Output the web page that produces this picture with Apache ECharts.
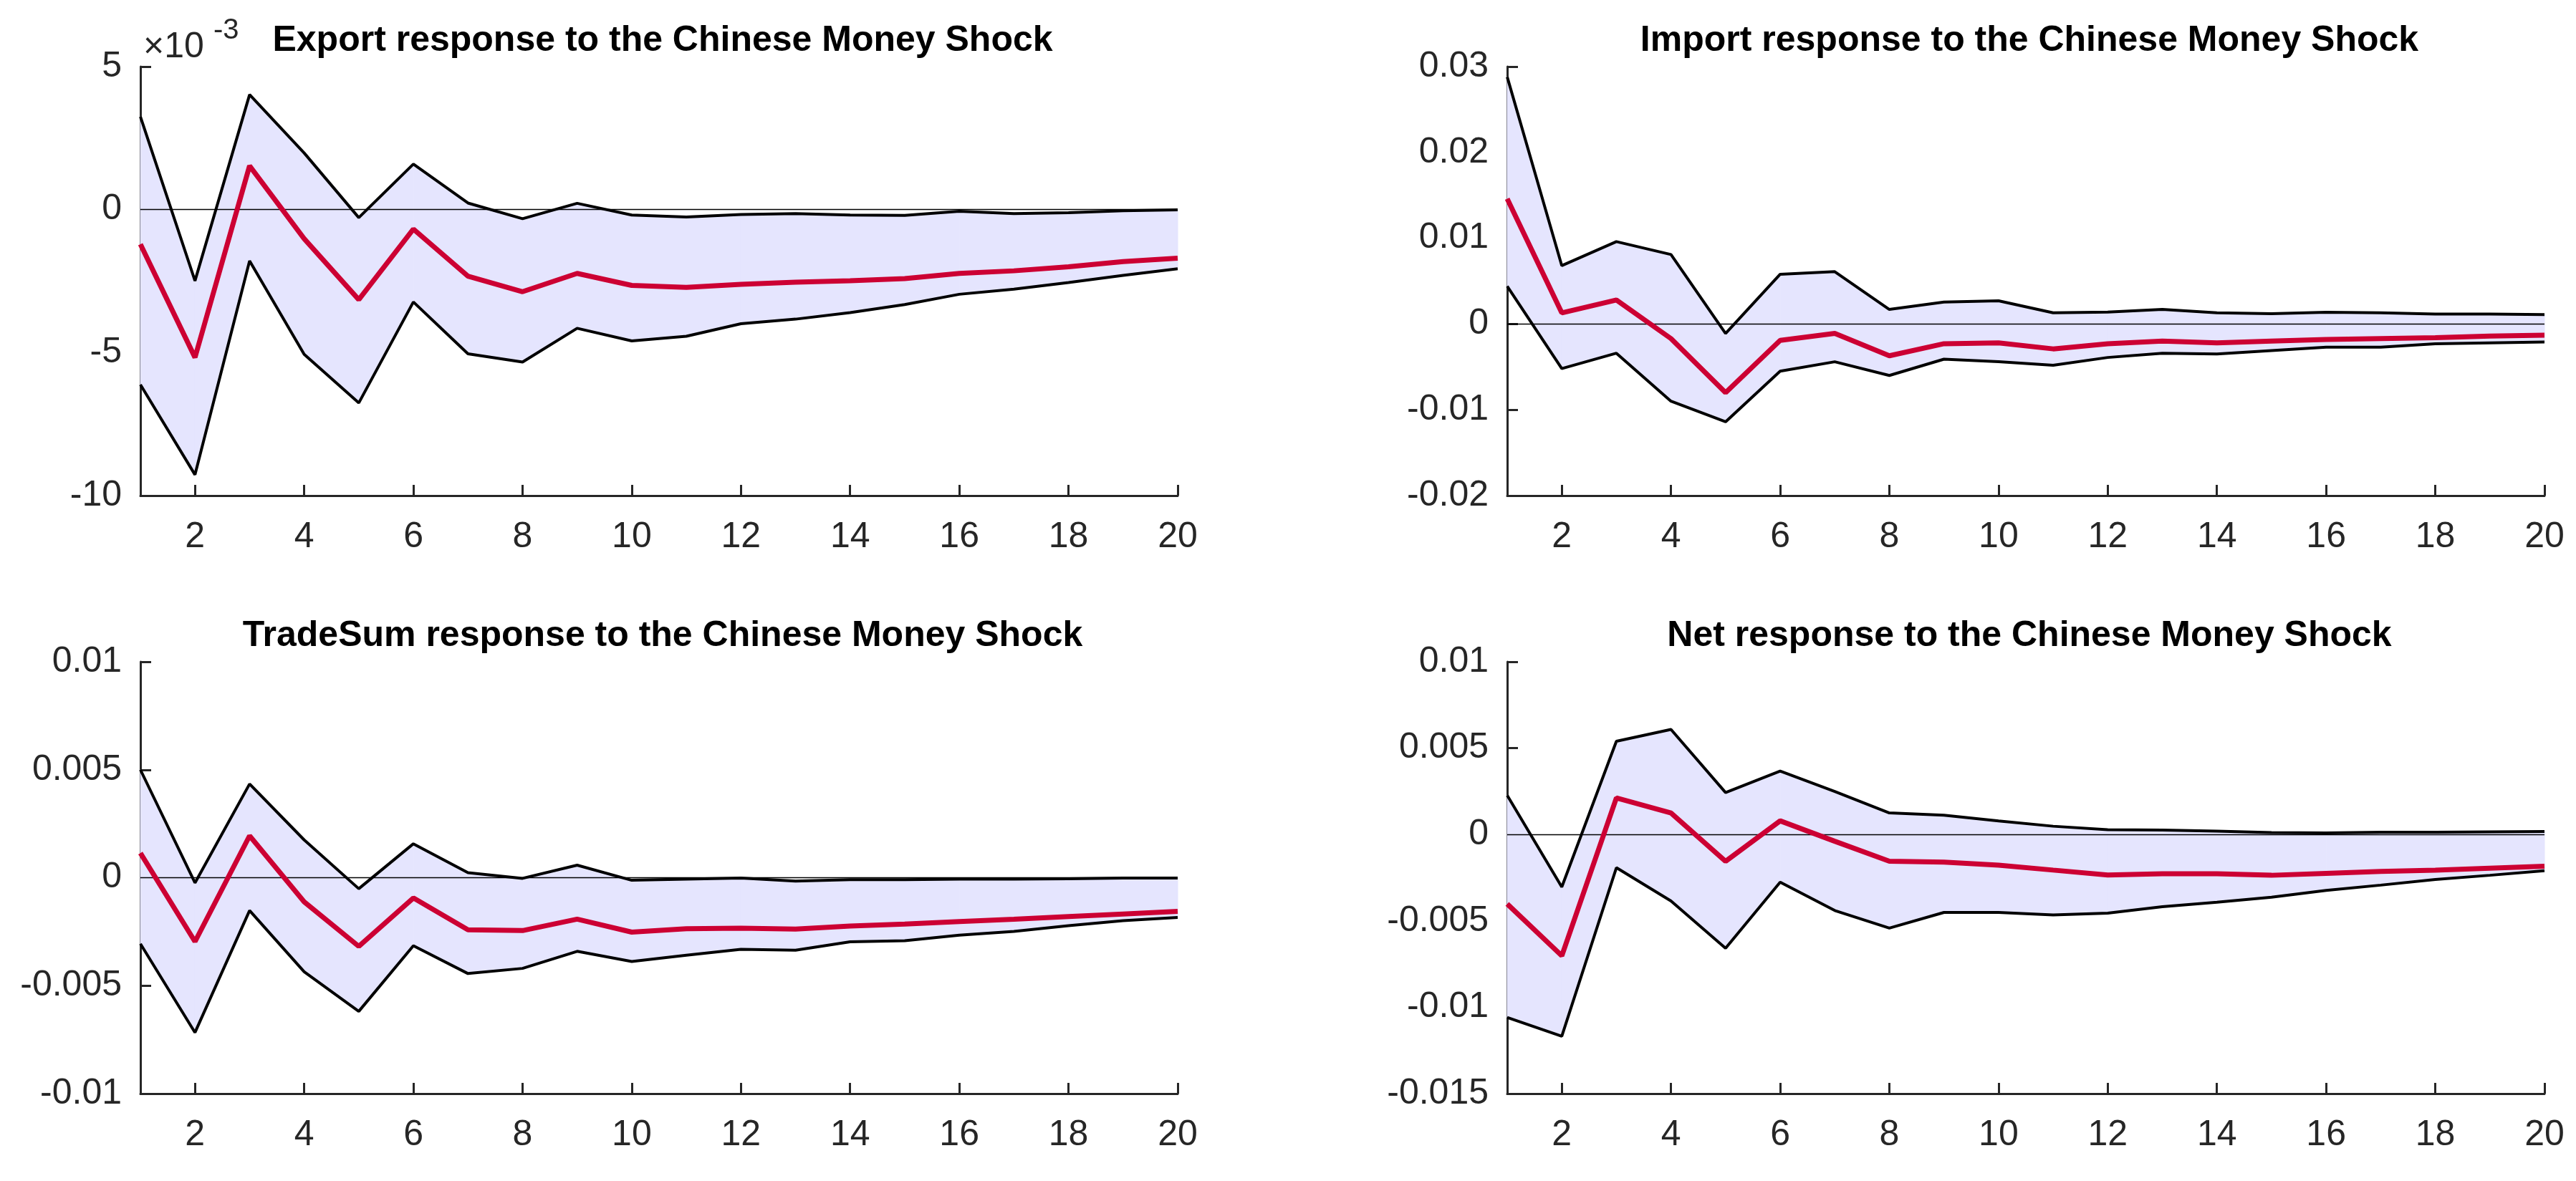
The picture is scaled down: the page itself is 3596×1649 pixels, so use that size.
<!DOCTYPE html>
<html>
<head>
<meta charset="utf-8">
<script src="https://cdn.jsdelivr.net/npm/echarts@6/dist/echarts.min.js"></script>
<style>
html,body{margin:0;padding:0;background:#fff;}
#c{width:3596px;height:1649px;}
</style>
</head>
<body>
<div id="c"></div>
<script>
// Horizon steps
const steps = [1,2,3,4,5,6,7,8,9,10,11,12,13,14,15,16,17,18,19,20];
const xTicks = [2,4,6,8,10,12,14,16,18,20];

// Export response (units of 1e-3)
const exportUpper = [3.25,-2.49,4.02,1.98,-0.28,1.59,0.23,-0.32,0.22,-0.19,-0.26,-0.17,-0.14,-0.19,-0.20,-0.06,-0.14,-0.11,-0.04,-0.01];
const exportMean  = [-1.21,-5.17,1.53,-1.02,-3.15,-0.68,-2.33,-2.87,-2.23,-2.65,-2.72,-2.61,-2.54,-2.49,-2.41,-2.23,-2.14,-2.00,-1.82,-1.70];
const exportLower = [-6.12,-9.27,-1.79,-5.06,-6.76,-3.23,-5.04,-5.33,-4.15,-4.59,-4.43,-3.99,-3.83,-3.60,-3.32,-2.96,-2.78,-2.55,-2.30,-2.07];

// Import response
const importUpper = [0.0288,0.0068,0.0096,0.0081,-0.0011,0.0058,0.0061,0.0017,0.00255,0.0027,0.0013,0.0014,0.0017,0.0013,0.0012,0.00136,0.0013,0.00115,0.00115,0.0011];
const importMean  = [0.0146,0.0013,0.0028,-0.0017,-0.0080,-0.0019,-0.0011,-0.0037,-0.0023,-0.0022,-0.0029,-0.0023,-0.0020,-0.0022,-0.0020,-0.0018,-0.0017,-0.0016,-0.0014,-0.0013];
const importLower = [0.0044,-0.0052,-0.0034,-0.0090,-0.0114,-0.0055,-0.0044,-0.0060,-0.0041,-0.0044,-0.0048,-0.0039,-0.0034,-0.0035,-0.0031,-0.0027,-0.0027,-0.0023,-0.0022,-0.0021];

// TradeSum response
const tradeUpper = [0.0050,-0.00024,0.00434,0.00175,-0.00051,0.00157,0.00023,-0.00003,0.00058,-0.00012,-0.00007,-0.00002,-0.00016,-0.00009,-0.00009,-0.00007,-0.00007,-0.00005,-0.00002,-0.00002];
const tradeMean  = [0.00114,-0.00296,0.00194,-0.00112,-0.00318,-0.00094,-0.00241,-0.00245,-0.00192,-0.00252,-0.00236,-0.00234,-0.00238,-0.00224,-0.00215,-0.00203,-0.00192,-0.00180,-0.00168,-0.00156];
const tradeLower = [-0.00306,-0.00717,-0.00152,-0.00436,-0.00619,-0.00315,-0.00444,-0.00420,-0.00341,-0.00388,-0.00359,-0.00332,-0.00336,-0.00297,-0.00292,-0.00266,-0.00249,-0.00222,-0.00199,-0.00184];

// Net response
const netUpper = [0.00227,-0.00304,0.00540,0.00608,0.00243,0.00367,0.00249,0.00125,0.00112,0.00079,0.00048,0.00028,0.00026,0.00020,0.00011,0.00009,0.00013,0.00013,0.00015,0.00017];
const netMean  = [-0.00402,-0.00702,0.00212,0.00125,-0.00155,0.00079,-0.00039,-0.00155,-0.00160,-0.00177,-0.00206,-0.00234,-0.00227,-0.00227,-0.00236,-0.00225,-0.00214,-0.00206,-0.00195,-0.00184];
const netLower = [-0.01059,-0.01168,-0.00192,-0.00385,-0.00658,-0.00276,-0.00440,-0.00542,-0.00451,-0.00451,-0.00466,-0.00455,-0.00418,-0.00392,-0.00363,-0.00324,-0.00293,-0.00260,-0.00236,-0.00210];

const titles = [
  'Export response to the Chinese Money Shock',
  'Import response to the Chinese Money Shock',
  'TradeSum response to the Chinese Money Shock',
  'Net response to the Chinese Money Shock'
];
const yMin = [-10, -0.02, -0.01, -0.015];
const yMax = [5, 0.03, 0.01, 0.01];
const yStep = [5, 0.01, 0.005, 0.005];

const panels = [
  {lo: exportLower, mid: exportMean, hi: exportUpper},
  {lo: importLower, mid: importMean, hi: importUpper},
  {lo: tradeLower, mid: tradeMean, hi: tradeUpper},
  {lo: netLower, mid: netMean, hi: netUpper}
];

const layout = [
  {left: 196, top: 93, width: 1448, height: 599},
  {left: 2104, top: 93, width: 1448, height: 599},
  {left: 196, top: 924, width: 1448, height: 603},
  {left: 2104, top: 924, width: 1448, height: 603}
];

const FONT = '"Liberation Sans", Arial, Helvetica, sans-serif';
const AX = '#262626';
const FILL = '#e5e5fe';
const RED = '#cc0033';

const pairs = arr => arr.map((v, i) => [steps[i], v]);

const grid = [], xAxis = [], yAxis = [], series = [], title = [];
panels.forEach((p, i) => {
  const L = layout[i];
  grid.push({left: L.left, top: L.top, width: L.width, height: L.height, containLabel: false});
  xAxis.push({
    type: 'value', gridIndex: i, min: 1, max: 20,
    splitLine: {show: false},
    axisLine: {show: true, onZero: false, lineStyle: {color: AX, width: 3}},
    axisTick: {show: true, inside: true, length: 15, lineStyle: {color: AX, width: 3}, customValues: xTicks},
    axisLabel: {show: true, margin: 33, fontSize: 50, fontFamily: FONT, color: AX, customValues: xTicks}
  });
  yAxis.push({
    type: 'value', gridIndex: i, min: yMin[i], max: yMax[i], interval: yStep[i],
    splitLine: {show: false},
    axisLine: {show: true, onZero: false, lineStyle: {color: AX, width: 3}},
    axisTick: {show: true, inside: true, length: 15, lineStyle: {color: AX, width: 3}},
    axisLabel: {show: true, margin: 26, fontSize: 50, fontFamily: FONT, color: AX,
      formatter: v => String(+v.toFixed(6))}
  });
  title.push({
    text: titles[i], left: L.left + L.width / 2, top: L.top - 66, textAlign: 'center',
    textStyle: {fontSize: 50, fontWeight: 'bold', fontFamily: FONT, color: '#000'}
  });
  // confidence band: one quad per step segment, built from the data through api.coord
  const bandData = steps.slice(0, -1).map((s, k) => [s, p.lo[k], p.hi[k], steps[k + 1], p.lo[k + 1], p.hi[k + 1]]);
  series.push({
    type: 'custom', xAxisIndex: i, yAxisIndex: i, data: bandData, silent: true, z: 1,
    encode: {x: [0, 3], y: [1, 2, 4, 5]},
    renderItem: (params, api) => {
      const a = api.coord([api.value(0), api.value(2)]);
      const b = api.coord([api.value(3), api.value(5)]);
      const c = api.coord([api.value(3), api.value(4)]);
      const d = api.coord([api.value(0), api.value(1)]);
      return {type: 'polygon', shape: {points: [a, b, c, d]},
        style: {fill: FILL, stroke: FILL, lineWidth: 1}};
    }
  });
  series.push({
    type: 'line', xAxisIndex: i, yAxisIndex: i, data: pairs(p.hi), symbol: 'none',
    lineStyle: {color: '#000', width: 4}, silent: true, z: 3
  });
  series.push({
    type: 'line', xAxisIndex: i, yAxisIndex: i, data: pairs(p.lo), symbol: 'none',
    lineStyle: {color: '#000', width: 4}, silent: true, z: 3
  });
  series.push({
    type: 'line', xAxisIndex: i, yAxisIndex: i, data: pairs(p.mid), symbol: 'none',
    lineStyle: {color: RED, width: 7}, silent: true, z: 4,
    markLine: {silent: true, symbol: 'none', label: {show: false},
      lineStyle: {color: '#000', width: 1.3, type: 'solid'}, data: [{yAxis: 0}], z: 2}
  });
});

const chart = echarts.init(document.getElementById('c'), null, {renderer: 'canvas'});
chart.setOption({
  animation: false,
  backgroundColor: '#fff',
  title, grid, xAxis, yAxis, series,
  graphic: [
    {type: 'text', left: 200, top: 41, style: {text: '×10', fontSize: 50, fontFamily: FONT, fill: AX}},
    {type: 'text', left: 298, top: 23, style: {text: '-3', fontSize: 40, fontFamily: FONT, fill: AX}}
  ]
});
</script>
</body>
</html>
